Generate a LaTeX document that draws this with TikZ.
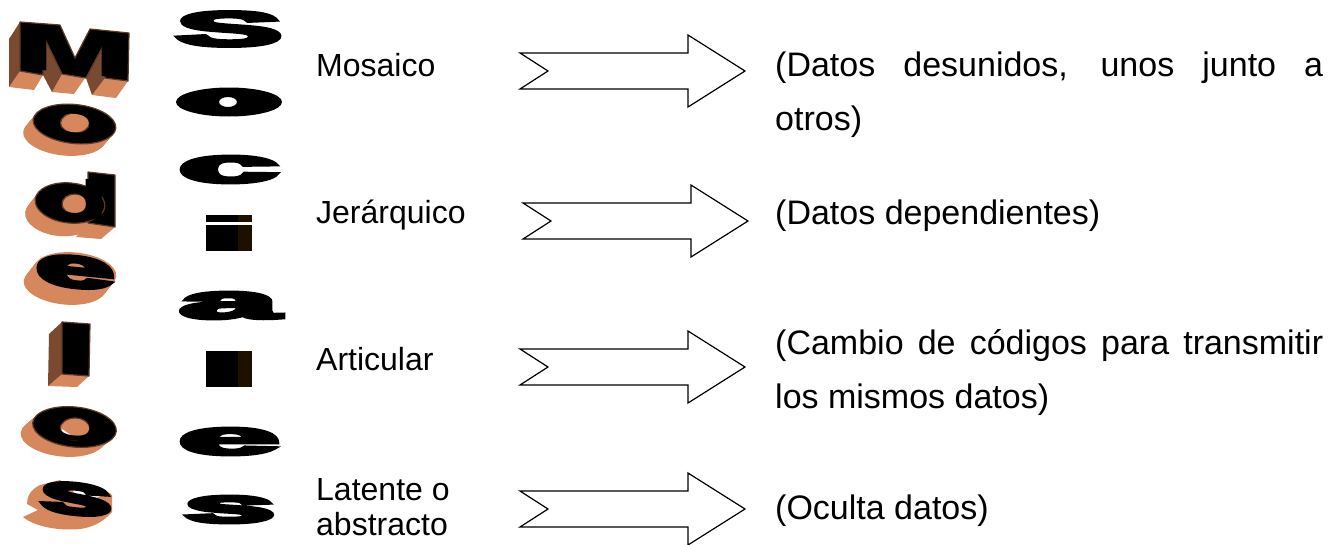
\documentclass[tikz,border=0pt]{standalone}
\usepackage{graphicx}
\usepackage{fontspec}
\setmainfont{Liberation Sans}
\newfontfamily\wafont{Liberation Sans Bold}
\newfontfamily\waheavy[FakeBold=7]{Liberation Sans Bold}
\definecolor{copper}{HTML}{D6875C}
\definecolor{sidebrown}{HTML}{7A4A30}
\definecolor{rimbrown}{HTML}{5E3A26}
\definecolor{deepbrown}{HTML}{1E1000}
\tikzset{
  bodytext/.style={inner sep=0pt,font=\fontsize{32}{54}\selectfont},
  righttext/.style={inner sep=0pt,font=\fontsize{34}{54}\selectfont},
  para/.style={righttext,anchor=north west,text width=548pt,align=justify},
  label/.style={bodytext,anchor=base west},
  rlabel/.style={righttext,anchor=base west},
  arrowshape/.style={draw=black,line width=1.2pt,fill=white,line join=miter},
  cop/.style={fill=copper},
  sidef/.style={fill=sidebrown},
  face/.style={fill=black,draw=rimbrown,line width=1.2pt,line join=round,even odd rule},
  flat/.style={fill=black,even odd rule}
}
% name, font, char, cx, cy, w, h, shear
\newcommand\wordart[8]{\node[inner sep=0pt,text=black,cm={1,#8,0,1,(0,0)}] (#1) at (#4,#5) {\resizebox{#6pt}{#7pt}{#2#3}};}
% cx cy rx ry rot dx dy
\newcommand\solid[7]{\foreach \t in {0,0.1,...,1.01}{\fill[cop] (#1+#6*\t,#2+#7*\t) circle[x radius=#3,y radius=#4,rotate=#5];}}
% x y = left notch corner, centre line
\newcommand\blockarrow[2]{\draw[arrowshape] (#1,#2-18) -- (#1+168,#2-18) -- (#1+168,#2-36) -- (#1+225,#2) -- (#1+168,#2+36) -- (#1+168,#2+18) -- (#1,#2+18) -- (#1+28,#2) -- cycle;}
\begin{document}
\begin{tikzpicture}[x=1pt,y=-1pt]
\path[fill=white,use as bounding box] (0,0) rectangle (1339,544);

% Modelos: M
\fill[cop] (20,71)--(43,75)--(34,90)--(9,87)--cycle;
\fill[cop] (62,74)--(85,78)--(74,94)--(52,92)--cycle;
\fill[cop] (105,78)--(128,81)--(116,98)--(92,95)--cycle;
\fill[sidef] (20,22)--(9,39)--(9,87)--(20,71)--cycle;
\fill[sidef] (43,35)--(62,74)--(52,92)--(43,75)--cycle;
\fill[sidef] (105,42)--(105,78)--(92,95)--(86,78)--cycle;
\path[face] (20,22)--(60,25)--(75,58)--(90,29)--(129,33)--(128,81)--(105,78)--(105,42)--(86,78)--(62,74)--(43,35)--(43,75)--(20,71)--cycle;
\wordart{mM}{\wafont}{M}{74.5}{52}{104}{44}{-0.1}
% o
\solid{74.5}{124}{41.5}{19.5}{-6}{-10}{12}
\path[face] (74.5,124) circle[x radius=41.5,y radius=19.5,rotate=-6] (75,123) circle[x radius=14.5,y radius=10];
\wordart{mo}{\wafont}{o}{74.5}{124}{76}{28}{-0.1}
% d
\solid{70}{203}{35}{20}{-6}{-10}{13}
\fill[cop] (88,223)--(115,227)--(101,239)--(76,237)--cycle;
\path[face] (88,172)--(115,175)--(115,227)--(88,223)--cycle;
\path[face] (70,203) circle[x radius=35,y radius=20,rotate=-6] (75,204) circle[x radius=13,y radius=10];
\wordart{md}{\wafont}{d}{75}{198}{72}{40}{-0.1}
% e
\solid{75}{272}{41.5}{19.5}{-6}{-10}{13}
\wordart{me}{\waheavy}{e}{75}{272}{78}{30}{-0.1}
% l
\fill[cop] (62,374)--(89,376)--(77,387)--(48,386)--cycle;
\fill[sidef] (62,322)--(49,334)--(48,386)--(62,374)--cycle;
\path[face] (62,322)--(90,324)--(89,376)--(62,374)--cycle;
\wordart{ml}{\wafont}{l}{76}{349}{20}{44}{-0.03}
% o
\solid{74.5}{427}{42}{19.5}{-6}{-12}{10}
\fill[white] (62,429) -- (75,438) -- (63,435) -- cycle;
\path[face] (74.5,427) circle[x radius=42,y radius=20,rotate=-6] (75,429) circle[x radius=15,y radius=11];
\wordart{mo2}{\wafont}{o}{74.5}{427}{76}{28}{-0.1}
% s
\fill[cop] (40,485) .. controls (30,490) and (27,497) .. (27,504) -- (38,510) -- (23,517) .. controls (35,527) and (60,531) .. (80,529) .. controls (95,527) and (105,520) .. (112,512) -- (112,495) -- (110,493) -- (85,502) -- (60,480) -- cycle;
\wordart{ms}{\waheavy}{s}{76}{499}{72}{30}{-0.1}

% Sociales
\wordart{s1}{\waheavy}{S}{229}{29}{106}{34}{0}
\path[flat] (229,102) circle[x radius=53,y radius=14.5] (228,102) circle[x radius=9,y radius=5];
\wordart{s2}{\wafont}{o}{229}{102}{96}{22}{0}
\wordart{s3}{\waheavy}{c}{228.5}{169.5}{99}{26}{0}
\fill[deepbrown] (238,215) rectangle (252,222);
\fill[deepbrown] (238,225) rectangle (252,251);
\fill[black] (206,215) rectangle (238,222);
\fill[black] (206,225) rectangle (238,251);
\wordart{s4}{\wafont}{i}{222}{233}{18}{34}{0}
\wordart{s5}{\waheavy}{a}{229}{305.5}{98}{26}{0}
\fill[deepbrown] (238,351) rectangle (252,387);
\fill[black] (206,351) rectangle (238,387);
\wordart{s6}{\wafont}{l}{222}{369}{18}{34}{0}
\wordart{s7}{\waheavy}{e}{229}{441.5}{100}{26}{0}
\wordart{s8}{\waheavy}{s}{229.5}{509.5}{91}{26}{0}

% middle labels
\node[label] (t1) at (316,76) {Mosaico};
\node[label] (t2) at (316,223) {Jerárquico};
\node[label] (t3) at (316,370) {Articular};
\node[label] (t4) at (316,500) {Latente o};
\node[label] (t5) at (316,535) {abstracto};

% arrows
\blockarrow{520}{71}
\blockarrow{523}{221}
\blockarrow{520}{367}
\blockarrow{520}{509}

% right texts
\node[para] (d1) at (775,52) {(Datos desunidos, unos junto a\linebreak otros)};
\node[rlabel] (d2) at (775,224) {(Datos dependientes)};
\node[para] (d3) at (775,329) {(Cambio de códigos para transmitir\linebreak los mismos datos)};
\node[rlabel] (d4) at (775,519) {(Oculta datos)};
\end{tikzpicture}
\end{document}
